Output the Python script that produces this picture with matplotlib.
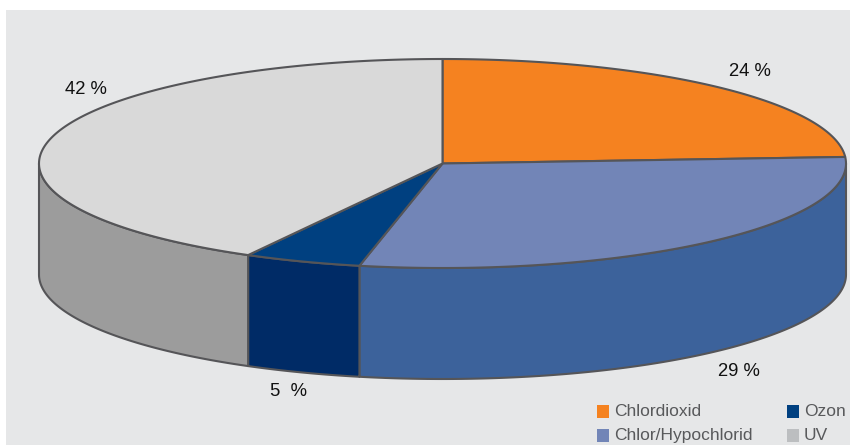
import matplotlib
matplotlib.use('Agg')
import matplotlib.pyplot as plt
import numpy as np
from matplotlib.patches import Rectangle

# Data
categories = ["Chlordioxid", "Chlor/Hypochlorid", "Ozon", "UV"]
values = [24, 29.3, 4.7, 42]
value_labels = ["24 %", "29 %", "5  %", "42 %"]

# Colours
top_colors = ["#f58220", "#7285b7", "#004080", "#d9d9d9"]
side_colors = ["#f58220", "#3c629b", "#002b66", "#9c9c9c"]
legend_colors = ["#f58220", "#7285b7", "#004080", "#bcbec0"]

# Pie geometry in pixels
cx, cy = 442.5, 163.5
rx, ry = 403.5, 104.5
depth = 111
edge = "#555558"

plt.rcParams['font.family'] = ['Liberation Sans', 'DejaVu Sans']

fig = plt.figure(figsize=(8.5, 4.45), dpi=100)
ax = fig.add_axes([0, 0, 1, 1])
ax.set_xlim(0, 850)
ax.set_ylim(445, 0)
ax.axis('off')

# Grey panel behind the chart
ax.add_patch(Rectangle((6, 10), 844, 435, facecolor="#e6e7e8", edgecolor="none", zorder=0))


def arc(a, b):
    t = np.radians(np.linspace(a, b, 200))
    return cx + rx * np.sin(t), cy - ry * np.cos(t)


# Slice angles, clockwise from the top
shares = np.array(values) / sum(values) * 360
starts = np.concatenate([[0], np.cumsum(shares)[:-1]])
ends = np.cumsum(shares)

# Side walls, only the front half of the ellipse is visible
for a, b, col in zip(starts, ends, side_colors):
    a2, b2 = max(a, 90), min(b, 270)
    if a2 >= b2:
        continue
    x, y = arc(a2, b2)
    ax.fill(np.concatenate([x, x[::-1]]), np.concatenate([y, y[::-1] + depth]),
            facecolor=col, edgecolor=edge, linewidth=1.5, zorder=2, joinstyle='round')

# Top faces
for a, b, col in zip(starts, ends, top_colors):
    x, y = arc(a, b)
    ax.fill(np.concatenate([[cx], x]), np.concatenate([[cy], y]),
            facecolor=col, edgecolor=edge, linewidth=1.5, zorder=3, joinstyle='round')

# Value labels
label_pos = [(750, 72), (739, 372), (289, 391), (86, 89)]
for (lx, ly), txt in zip(label_pos, value_labels):
    ax.text(lx, ly, txt, ha='center', va='center', fontsize=13.3, color="#111111", zorder=4)

# Legend
legend_pos = [(597, 405), (597, 429), (787, 405), (787, 429)]
for (lx, ly), name, col in zip(legend_pos, categories, legend_colors):
    ax.add_patch(Rectangle((lx, ly), 12.5, 12.5, facecolor=col, edgecolor="none", zorder=4))
    ax.text(lx + 17, ly + 6.5, name, ha='left', va='center', fontsize=12.5, color="#58595b", zorder=4)

plt.savefig('out.png', dpi=100)
